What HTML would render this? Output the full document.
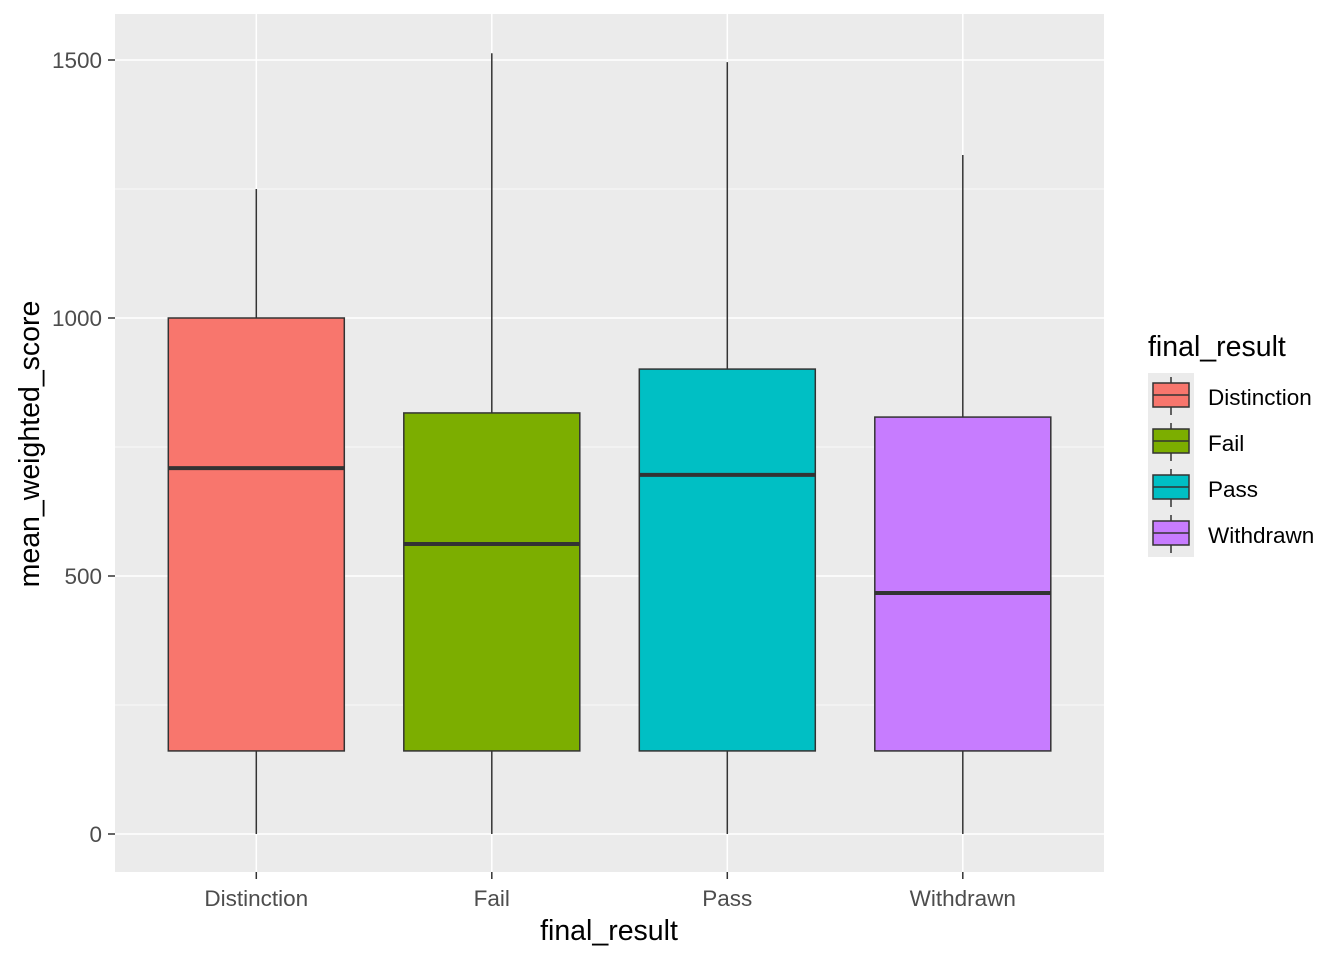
<!DOCTYPE html>
<html><head><meta charset="utf-8"><style>body{margin:0;background:#fff}svg{display:block;font-family:"Liberation Sans",Arial,sans-serif}</style></head>
<body>
<svg id="chart" width="1344" height="960" xmlns="http://www.w3.org/2000/svg">
<rect x="115" y="14" width="989" height="858" fill="#ebebeb"/>
<g id="grid"></g><g id="boxes"></g><g id="axes"></g><g id="legend"></g>
<text x="609" y="940" font-size="28.5" text-anchor="middle" fill="#000">final_result</text>
<text transform="translate(39,444) rotate(-90)" font-size="28.5" text-anchor="middle" fill="#000">mean_weighted_score</text>
<text x="1148" y="356" font-size="28.5" fill="#000">final_result</text>
</svg>
<script>
const categories=["Distinction","Fail","Pass","Withdrawn"];
const colors=["#F8766D","#7CAE00","#00BFC4","#C77CFF"];
const lowWhisker=[0,0,0,0];
const q1=[161,161,161,161];
const medians=[709,562,696,467];
const q3=[1000,816,901,808];
const highWhisker=[1250,1513,1496,1316];
const yTicks=[0,500,1000,1500];
const NS="http://www.w3.org/2000/svg";
const y=v=>834-v*0.516;
const x=i=>115+(i+0.6)*235.5;
function mk(p,tag,at){const e=document.createElementNS(NS,tag);for(const k in at)e.setAttribute(k,at[k]);p.appendChild(e);return e;}
const grid=document.getElementById('grid'),boxes=document.getElementById('boxes'),axes=document.getElementById('axes'),leg=document.getElementById('legend');
for(let i=0;i<yTicks.length;i++){
 const yy=y(yTicks[i]);
 const g=mk(grid,'line',{x1:115,x2:1104,y1:yy,y2:yy,stroke:'#fff','stroke-width':1.5});
 
 
 if(i<yTicks.length-1){const ym=y((yTicks[i]+yTicks[i+1])/2);
  const m=mk(grid,'line',{x1:115,x2:1104,y1:ym,y2:ym,stroke:'#fff','stroke-width':0.7});
  
  }
 const t=mk(axes,'line',{x1:108,x2:115,y1:yy,y2:yy,stroke:'#333','stroke-width':1.5});
 
 
 const l=mk(axes,'text',{x:102,y:yy+8,'font-size':22.5,'text-anchor':'end',fill:'#4d4d4d'});l.textContent=yTicks[i];
 
 
}
categories.forEach((c,i)=>{
 const cx=x(i);
 const g=mk(grid,'line',{x1:cx,x2:cx,y1:14,y2:872,stroke:'#fff','stroke-width':1.5});
 
 
 const t=mk(axes,'line',{x1:cx,x2:cx,y1:872,y2:879,stroke:'#333','stroke-width':1.5});
 
 
 const l=mk(axes,'text',{x:cx,y:906,'font-size':22.5,'text-anchor':'middle',fill:'#4d4d4d'});l.textContent=c;
 
 
 const b=mk(boxes,'g',{});
 
 
 mk(b,'line',{x1:cx,x2:cx,y1:y(highWhisker[i]),y2:y(q3[i]),stroke:'#333','stroke-width':1.5});
 mk(b,'line',{x1:cx,x2:cx,y1:y(q1[i]),y2:y(lowWhisker[i]),stroke:'#333','stroke-width':1.5});
 mk(b,'rect',{x:cx-88,y:y(q3[i]),width:176,height:y(q1[i])-y(q3[i]),fill:colors[i],stroke:'#333','stroke-width':1.5});
 mk(b,'line',{x1:cx-88,x2:cx+88,y1:y(medians[i]),y2:y(medians[i]),stroke:'#333','stroke-width':4});
 const ry=373+i*46;
 const k=mk(leg,'g',{});
 
 
 mk(k,'rect',{x:1148,y:ry,width:46,height:46,fill:'#ebebeb'});
 mk(k,'line',{x1:1171,x2:1171,y1:ry+4,y2:ry+42,stroke:'#333','stroke-width':1.5});
 mk(k,'rect',{x:1153,y:ry+10,width:36,height:24,fill:colors[i],stroke:'#333','stroke-width':1.5});
 mk(k,'line',{x1:1153,x2:1189,y1:ry+22,y2:ry+22,stroke:'#333','stroke-width':1.5});
 const lt=mk(k,'text',{x:1208,y:ry+32,'font-size':22.5,fill:'#000'});lt.textContent=c;
});
</script>
</body></html>
